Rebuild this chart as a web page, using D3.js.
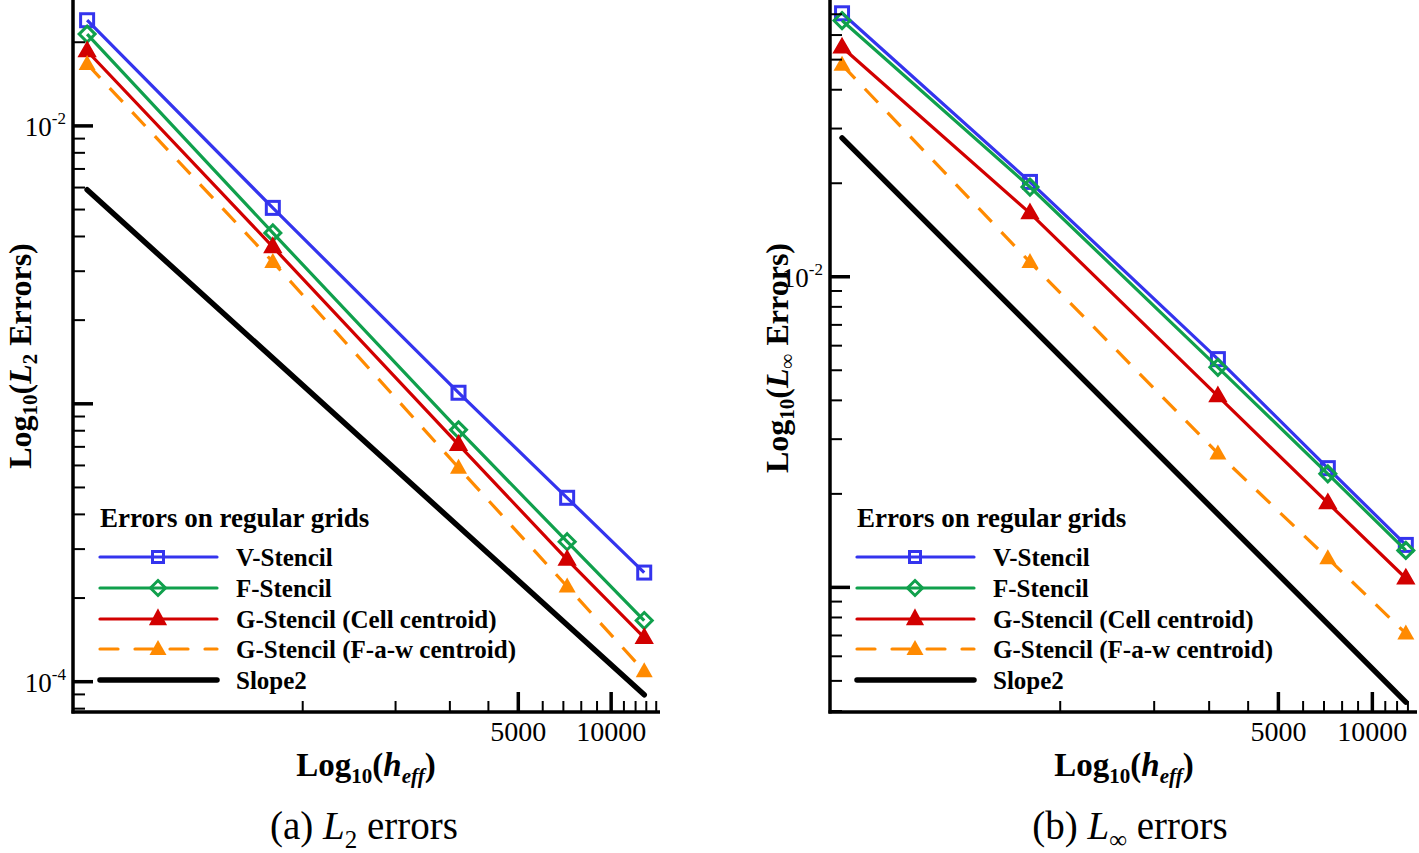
<!DOCTYPE html>
<html>
<head>
<meta charset="utf-8">
<script src="https://cdn.jsdelivr.net/npm/d3@7/dist/d3.min.js"></script>
<style>
  html, body { margin: 0; padding: 0; background: #fff; }
  svg { display: block; font-family: "Liberation Serif", "Times New Roman", serif; }
</style>
</head>
<body>
<svg id="chart" width="1419" height="853"></svg>
<script>
// ---------------- DATA ----------------
const hEff = [200, 800, 3200, 7200, 12800];
const seriesNames = ["V-Stencil", "F-Stencil", "G-Stencil (Cell centroid)", "G-Stencil (F-a-w centroid)", "Slope2"];
const slopeX = [200, 12800];

// (a) L2 errors
const l2VStencil = [0.0240, 5.07e-3, 1.096e-3, 4.59e-4, 2.47e-4];
const l2FStencil = [0.0214, 4.12e-3, 8.06e-4, 3.19e-4, 1.66e-4];
const l2GCell    = [0.0186, 3.67e-3, 7.13e-4, 2.75e-4, 1.44e-4];
const l2GFaw     = [0.0167, 3.24e-3, 5.89e-4, 2.20e-4, 1.09e-4];
const l2Slope    = [5.89e-3, 8.97e-5];

// (b) Linf errors
const linfVStencil = [0.0705, 0.0202, 5.43e-3, 2.42e-3, 1.37e-3];
const linfFStencil = [0.0668, 0.01945, 5.11e-3, 2.32e-3, 1.315e-3];
const linfGCell    = [0.0548, 0.01603, 4.13e-3, 1.87e-3, 1.07e-3];
const linfGFaw     = [0.0481, 0.01115, 2.70e-3, 1.24e-3, 7.11e-4];
const linfSlope    = [0.0280, 4.27e-4];

// axis tick labels
const xTickLabels = [5000, 10000];
const xTickValues = [1000, 2000, 3000, 4000, 5000, 6000, 7000, 8000, 9000, 10000, 11000, 12000, 13000, 14000];
const l2YLabels = [-2, -4];    // exponents of labelled decades
const linfYLabels = [-2];
const legendTitle = "Errors on regular grids";

// ---------------- STYLE ----------------
const colors = ["#3434ee", "#10a04c", "#d20000", "#ff8a00", "#000000"];
const svg = d3.select("#chart");

function drawPanel(cfg) {
  const g = svg.append("g");
  const x = d3.scaleLog().domain(cfg.xDomain).range([cfg.left, cfg.right]);
  const y = d3.scaleLog().domain(cfg.yDomain).range([cfg.bottom, cfg.top]);

  // ---- series ----
  const series = [
    {vals: cfg.data[0], color: colors[0], marker: "square", dash: null, w: 3.2},
    {vals: cfg.data[1], color: colors[1], marker: "diamond", dash: null, w: 3.2},
    {vals: cfg.data[2], color: colors[2], marker: "triangle", dash: null, w: 3.2},
    {vals: cfg.data[3], color: colors[3], marker: "triangleFill", dash: "19,14", w: 3.2},
  ];
  const line = d3.line().x(d => x(d[0])).y(d => y(d[1]));

  function marker(sel, type, color, cx, cy) {
    if (type === "square") {
      sel.append("rect").attr("x", cx - 6.5).attr("y", cy - 6.5).attr("width", 13).attr("height", 13)
        .attr("fill", "none").attr("stroke", color).attr("stroke-width", 3);
    } else if (type === "diamond") {
      const r = 8;
      sel.append("path").attr("d", `M${cx},${cy - r}L${cx + r},${cy}L${cx},${cy + r}L${cx - r},${cy}Z`)
        .attr("fill", "none").attr("stroke", color).attr("stroke-width", 3);
    } else if (type === "triangle") {
      sel.append("path").attr("d", `M${cx},${cy - 8}L${cx + 7.5},${cy + 5}L${cx - 7.5},${cy + 5}Z`)
        .attr("fill", color).attr("stroke", color).attr("stroke-width", 2.5).attr("stroke-linejoin", "miter");
    } else {
      sel.append("path").attr("d", `M${cx},${cy - 9}L${cx + 8.5},${cy + 6}L${cx - 8.5},${cy + 6}Z`)
        .attr("fill", color);
    }
  }

  series.forEach(s => {
    const pts = hEff.map((h, i) => [h, s.vals[i]]);
    g.append("path").attr("d", line(pts)).attr("fill", "none").attr("stroke", s.color)
      .attr("stroke-width", s.w).attr("stroke-dasharray", s.dash);
    pts.forEach(p => marker(g, s.marker, s.color, x(p[0]), y(p[1])));
  });
  // slope line
  g.append("path").attr("d", line(slopeX.map((h, i) => [h, cfg.slope[i]])))
    .attr("fill", "none").attr("stroke", "#000").attr("stroke-width", 5.5).attr("stroke-linecap", "round");

  // ---- axes ----
  g.append("line").attr("x1", cfg.left).attr("x2", cfg.left).attr("y1", cfg.top).attr("y2", cfg.bottom + 1.5)
    .attr("stroke", "#000").attr("stroke-width", 3.5);
  g.append("line").attr("x1", cfg.left - 1.5).attr("x2", cfg.right).attr("y1", cfg.bottom).attr("y2", cfg.bottom)
    .attr("stroke", "#000").attr("stroke-width", 3.5);

  // y ticks
  const [y0, y1] = cfg.yDomain;
  const yticks = [];
  for (let e = Math.floor(Math.log10(y0)); e <= Math.ceil(Math.log10(y1)); e++) {
    for (let k = 1; k <= 9; k++) {
      const v = k * Math.pow(10, e);
      if (v >= y0 && v <= y1) yticks.push({v, major: k === 1, e});
    }
  }
  yticks.forEach(t => {
    g.append("line").attr("x1", cfg.left).attr("x2", cfg.left + (t.major ? 20 : 12))
      .attr("y1", y(t.v)).attr("y2", y(t.v)).attr("stroke", "#000").attr("stroke-width", t.major ? 3.5 : 2);
  });
  cfg.yLabels.forEach(e => {
    const ty = y(Math.pow(10, e));
    const t = g.append("text").attr("x", cfg.left - 7).attr("y", ty + 10).attr("text-anchor", "end")
      .attr("font-size", 27);
    t.append("tspan").text("10");
    t.append("tspan").attr("font-size", 17).attr("dy", -12).text("-" + Math.abs(e));
  });

  // x ticks
  xTickValues.filter(v => v >= cfg.xDomain[0] && v <= cfg.xDomain[1]).forEach(v => {
    const major = xTickLabels.includes(v);
    g.append("line").attr("x1", x(v)).attr("x2", x(v)).attr("y1", cfg.bottom).attr("y2", cfg.bottom - (major ? 20 : 11))
      .attr("stroke", "#000").attr("stroke-width", major ? 3.5 : 2);
  });
  xTickLabels.forEach(v => {
    g.append("text").attr("x", x(v)).attr("y", cfg.bottom + 29).attr("text-anchor", "middle")
      .attr("font-size", 28).text(v);
  });

  // x title
  const xt = g.append("text").attr("x", cfg.xTitleX).attr("y", 776).attr("text-anchor", "middle")
    .attr("font-size", 33).attr("font-weight", "bold");
  xt.append("tspan").text("Log");
  xt.append("tspan").attr("font-size", 21).attr("dy", 7).text("10");
  xt.append("tspan").attr("dy", -7).text("(");
  xt.append("tspan").attr("font-style", "italic").text("h");
  xt.append("tspan").attr("font-style", "italic").attr("font-size", 21).attr("dy", 7).text("eff");
  xt.append("tspan").attr("dy", -7).text(")");

  // y title
  const yt = g.append("text").attr("transform", `translate(${cfg.yTitleX},${cfg.yTitleY}) rotate(-90)`)
    .attr("text-anchor", "middle").attr("font-size", 32).attr("font-weight", "bold");
  yt.append("tspan").text("Log");
  yt.append("tspan").attr("font-size", 21).attr("dy", 6).text("10");
  yt.append("tspan").attr("dy", -6).text("(");
  yt.append("tspan").attr("font-style", "italic").text("L");
  yt.append("tspan").attr("font-size", 21).attr("dy", 6).text(cfg.norm);
  yt.append("tspan").attr("dy", -6).text(" Errors)");

  // caption
  const cp = g.append("text").attr("x", cfg.captionX).attr("y", 839).attr("text-anchor", "middle")
    .attr("font-size", 39);
  cp.append("tspan").text(cfg.captionPrefix + " ");
  cp.append("tspan").attr("font-style", "italic").text("L");
  cp.append("tspan").attr("font-size", 25).attr("dy", 9).text(cfg.norm);
  cp.append("tspan").attr("dy", -9).text(" errors");

  // legend
  const lx = cfg.left + 27;
  g.append("text").attr("x", lx).attr("y", 527).attr("font-size", 27).attr("font-weight", "bold").text(legendTitle);
  const rowY = [557, 588, 619, 649, 680];
  const legTypes = ["square", "diamond", "triangle", "triangleFill", null];
  seriesNames.forEach((name, i) => {
    const ly = rowY[i];
    const isSlope = i === 4;
    g.append("line").attr("x1", lx).attr("x2", lx + 117).attr("y1", ly).attr("y2", ly)
      .attr("stroke", colors[i]).attr("stroke-width", isSlope ? 5.5 : 3.2)
      .attr("stroke-linecap", "round")
      .attr("stroke-dasharray", i === 3 ? "18,17" : null);
    if (legTypes[i]) {
      const cx = lx + 58;
      if (legTypes[i] === "square") {
        g.append("rect").attr("x", cx - 5.5).attr("y", ly - 5.5).attr("width", 11).attr("height", 11)
          .attr("fill", "none").attr("stroke", colors[i]).attr("stroke-width", 3);
      } else if (legTypes[i] === "diamond") {
        const r = 7.5;
        g.append("path").attr("d", `M${cx},${ly - r}L${cx + r},${ly}L${cx},${ly + r}L${cx - r},${ly}Z`)
          .attr("fill", "none").attr("stroke", colors[i]).attr("stroke-width", 3);
      } else if (legTypes[i] === "triangle") {
        g.append("path").attr("d", `M${cx},${ly - 8}L${cx + 7},${ly + 5}L${cx - 7},${ly + 5}Z`)
          .attr("fill", colors[i]).attr("stroke", colors[i]).attr("stroke-width", 2.5);
      } else {
        g.append("path").attr("d", `M${cx},${ly - 9}L${cx + 8.5},${ly + 6}L${cx - 8.5},${ly + 6}Z`)
          .attr("fill", colors[i]);
      }
    }
    g.append("text").attr("x", lx + 136).attr("y", ly + 9).attr("font-size", 25).attr("font-weight", "bold").text(name);
  });
}

drawPanel({
  left: 73, right: 660, top: 0, bottom: 712,
  xDomain: [180, 14400], yDomain: [7.78e-5, 0.02838],
  data: [l2VStencil, l2FStencil, l2GCell, l2GFaw], slope: l2Slope,
  yLabels: l2YLabels, norm: "2",
  xTitleX: 366, yTitleX: 31, yTitleY: 356,
  captionX: 364, captionPrefix: "(a)"
});
drawPanel({
  left: 830, right: 1417, top: 0, bottom: 712,
  xDomain: [183, 13900], yDomain: [3.97e-4, 0.0778],
  data: [linfVStencil, linfFStencil, linfGCell, linfGFaw], slope: linfSlope,
  yLabels: linfYLabels, norm: "\u221E",
  xTitleX: 1124, yTitleX: 788, yTitleY: 358,
  captionX: 1130, captionPrefix: "(b)"
});
</script>
</body>
</html>
